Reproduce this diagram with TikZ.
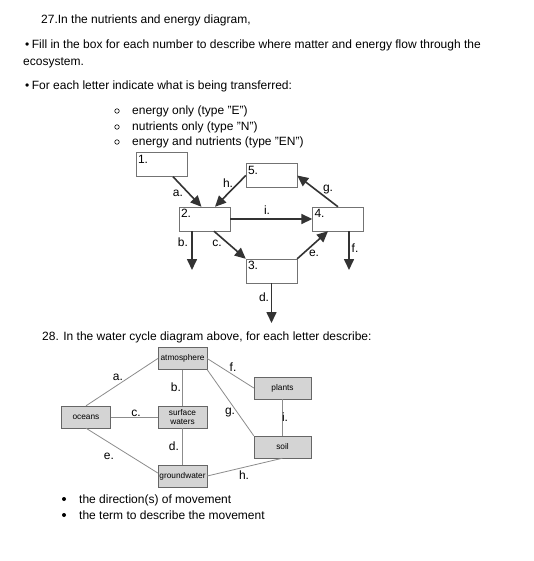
\documentclass[tikz,border=0pt]{standalone}
\usepackage{fontspec}
\setmainfont{Liberation Sans}
\usetikzlibrary{arrows.meta,calc}
\tikzset{
 numbox/.style={draw=black!55,minimum width=51pt,minimum height=24pt,inner sep=0pt},
 flow/.style={-{Triangle[length=11pt,width=10pt]},line width=1.6pt,draw=black!80},
 wbox/.style={draw=black!60,fill=black!17,minimum width=49pt,minimum height=22pt,
             inner sep=0pt,align=center,font=\fontsize{8.3}{9}\selectfont},
 wline/.style={draw=black!45,line width=0.8pt},
 lbl/.style={font=\fontsize{12}{14}\selectfont,inner sep=0pt},
 txt/.style={anchor=base west,inner sep=0pt,font=\fontsize{12}{14}\selectfont}
}

\begin{document}
\begin{tikzpicture}[x=1pt,y=-1pt]
\useasboundingbox[fill=white] (0,0) rectangle (533,561);
% question 27
\node[txt] (q27) at (41,24) {27.In the nutrients and energy diagram,};
\node[txt] (fill) at (25,49) {\textbullet\hspace{2.5pt}Fill in the box for each number to describe where matter and energy flow through the};
\node[txt] (eco) at (23,66) {ecosystem.};
\node[txt] (each) at (25,90) {\textbullet\hspace{2.5pt}For each letter indicate what is being transferred:};
\foreach \y/\t [count=\k] in {111/{energy only (type "E")},127/{nutrients only (type "N")},142/{energy and nutrients (type "EN")}}{
  \node[circle,draw,line width=0.6pt,inner sep=0pt,minimum size=4.5pt] (o\k) at (117,\y) {};
  \node[txt] (t\k) at (132,\y+4) {\t};
}
% nutrients and energy boxes
\node[numbox,label={[lbl,anchor=north west,xshift=2pt,yshift=-2.5pt]north west:1.}] (n1) at (161.5,164.5) {};
\node[numbox,label={[lbl,anchor=north west,xshift=2pt,yshift=-2.5pt]north west:2.}] (n2) at (204.5,219) {};
\node[numbox,label={[lbl,anchor=north west,xshift=2pt,yshift=-2.5pt]north west:3.}] (n3) at (271.5,271) {};
\node[numbox,label={[lbl,anchor=north west,xshift=2pt,yshift=-2.5pt]north west:4.}] (n4) at (338,219) {};
\node[numbox,label={[lbl,anchor=north west,xshift=2pt,yshift=-2.5pt]north west:5.}] (n5) at (271.5,175.5) {};
\coordinate (bEnd) at (192,270);
\coordinate (fEnd) at (349,270);
\coordinate (dEnd) at (271.5,323);
\draw[flow] ([xshift=11.5pt]n1.south) -- ([xshift=-3pt]n2.north);
\draw[flow] (n5.west) -- ([xshift=10.5pt]n2.north);
\draw[flow] (n2.east) -- (n4.west);
\draw[flow] (n4.north) -- (n5.east);
\draw[flow] ([xshift=-12.5pt]n2.south) -- (bEnd);
\draw[flow] ([xshift=9.5pt]n2.south) -- (n3.north west);
\draw[flow] (n3.north east) -- ([xshift=-10pt]n4.south);
\draw[flow] ([xshift=11pt]n4.south) -- (fEnd);
\draw[flow] (n3.south) -- (dEnd);
\node[lbl] (la) at (178,193) {a.};
\node[lbl] (lh) at (228,183) {h.};
\node[lbl] (li) at (267,210) {i.};
\node[lbl] (lg) at (328,190) {g.};
\node[lbl] (lb) at (183,242) {b.};
\node[lbl] (lc) at (217,243) {c.};
\node[lbl] (le) at (314,253) {e.};
\node[lbl] (lf) at (355,248) {f.};
\node[lbl] (ld) at (264,297) {d.};
% question 28
\node[txt] (q28) at (42,340) {28. In the water cycle diagram above, for each letter describe:};
\node[wbox] (atm) at (182.5,358.5) {atmosphere};
\node[wbox,minimum width=57pt] (pla) at (282.5,388) {plants};
\node[wbox] (oce) at (86,417) {oceans};
\node[wbox] (surf) at (182.5,417) {surface\\waters};
\node[wbox,minimum width=57pt] (soil) at (282.5,447) {soil};
\node[wbox] (gw) at (182.5,476) {groundwater};
\draw[wline] (oce.north) -- (atm.west);
\draw[wline] (atm.south) -- (surf.north);
\draw[wline] (oce.east) -- (surf.west);
\draw[wline] (surf.south) -- (gw.north);
\draw[wline] (oce.south) -- ([yshift=3pt]gw.west);
\draw[wline] (atm.east) -- (pla.west);
\draw[wline] (atm.south east) -- (soil.north west);
\draw[wline] (gw.east) -- (soil.south);
\draw[wline] (pla.south) -- (soil.north);
\node[lbl] (wa) at (118,377) {a.};
\node[lbl] (wb) at (176,387) {b.};
\node[lbl] (wc) at (136,413) {c.};
\node[lbl] (wd) at (174,446) {d.};
\node[lbl] (we) at (109,456) {e.};
\node[lbl] (wf) at (233,367) {f.};
\node[lbl] (wg) at (230,413) {g.};
\node[lbl] (wh) at (244,475) {h.};
\node[lbl] (wi) at (285,417) {i.};
% describe
\fill (64,499) circle (2pt);
\fill (64,515) circle (2pt);
\node[txt] (dir) at (79,503) {the direction(s) of movement};
\node[txt] (term) at (79,519) {the term to describe the movement};
\end{tikzpicture}
\end{document}
